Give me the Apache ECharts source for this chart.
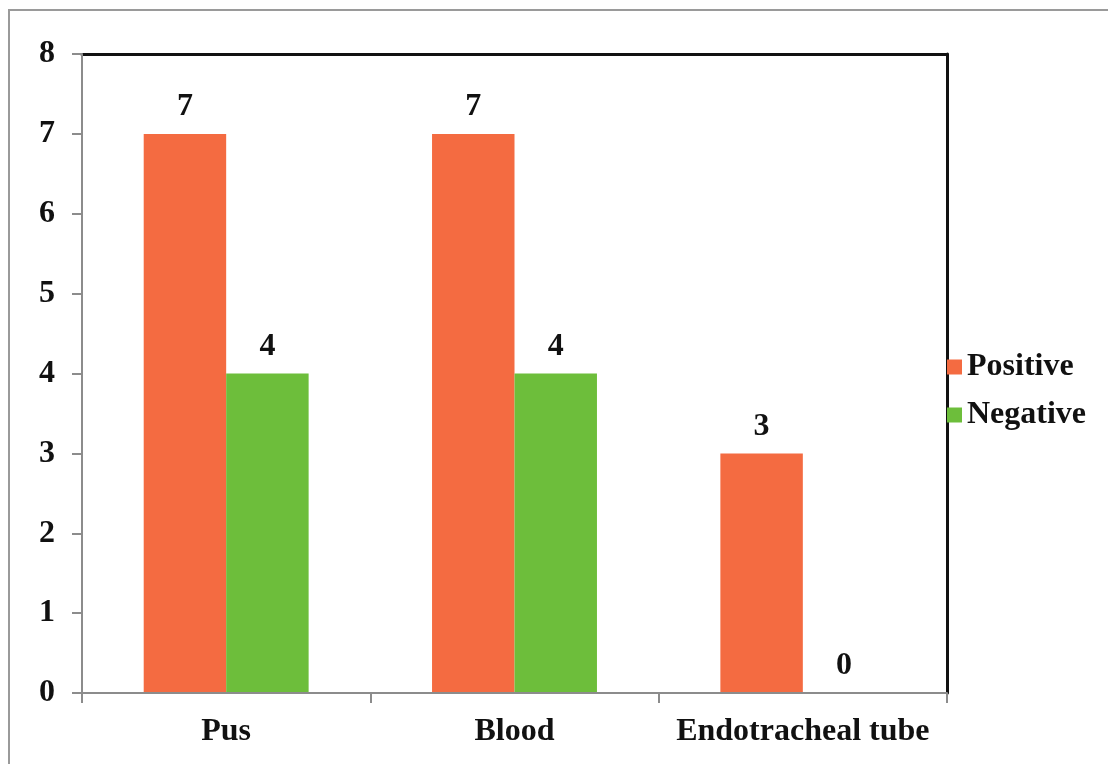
<!DOCTYPE html>
<html>
<head>
<meta charset="utf-8">
<style>
  html, body { margin: 0; padding: 0; background: #ffffff; }
  #chart { width: 1108px; height: 764px; }
</style>
<script src="https://cdn.jsdelivr.net/npm/echarts@6/dist/echarts.min.js"></script>
</head>
<body>
<div id="chart"></div>
<script>
// Specimen types and culture results
const categories = ['Pus', 'Blood', 'Endotracheal tube'];
const positiveCounts = [7, 7, 3];
const negativeCounts = [4, 4, 0];
const seriesNames = ['Positive', 'Negative'];
const yTicks = [0, 1, 2, 3, 4, 5, 6, 7, 8];

const FONT = '"Liberation Serif", "Times New Roman", serif';
const FONT_SIZE = 32;
const ORANGE = '#F46B41';
const GREEN = '#6DBE3B';

const chart = echarts.init(document.getElementById('chart'), null, { renderer: 'canvas' });

const labelStyle = {
  show: true,
  position: 'top',
  distance: 11,
  fontFamily: FONT,
  fontWeight: 'bold',
  fontSize: FONT_SIZE,
  color: '#111111'
};

chart.setOption({
  backgroundColor: '#ffffff',
  animation: false,
  graphic: [{
    type: 'rect',
    shape: { x: 9, y: 10, width: 1110, height: 770 },
    style: { fill: 'none', stroke: '#9a9a9a', lineWidth: 2 },
    silent: true
  }],
  legend: {
    orient: 'vertical',
    left: 942,
    top: 346,
    icon: 'rect',
    itemWidth: 15,
    itemHeight: 15,
    itemGap: 16,
    textStyle: { fontFamily: FONT, fontWeight: 'bold', fontSize: FONT_SIZE, color: '#111111' },
    data: seriesNames
  },
  grid: { left: 82, right: 161, top: 54, bottom: 71 },
  xAxis: [{
    type: 'category',
    data: categories,
    axisLine: { show: true, lineStyle: { color: '#8c8c8c', width: 2 } },
    axisTick: { show: true, interval: 0, length: 10, lineStyle: { color: '#8c8c8c', width: 2 } },
    axisLabel: { interval: 0, margin: 23, fontFamily: FONT, fontWeight: 'bold', fontSize: FONT_SIZE, color: '#111111' },
    z: 5
  }, {
    type: 'category',
    data: categories,
    position: 'top',
    axisLine: { show: true, onZero: false, lineStyle: { color: '#111111', width: 3 } },
    axisTick: { show: false },
    axisLabel: { show: false }
  }],
  yAxis: [{
    type: 'value',
    min: 0,
    max: 8,
    interval: 1,
    axisLine: { show: true, lineStyle: { color: '#8c8c8c', width: 2 } },
    axisTick: { show: true, length: 10, lineStyle: { color: '#8c8c8c', width: 2 } },
    axisLabel: {
      margin: 27,
      fontFamily: FONT, fontWeight: 'bold', fontSize: FONT_SIZE, color: '#111111',
      formatter: v => (yTicks.indexOf(v) >= 0 ? String(v) : '')
    },
    splitLine: { show: false },
    z: 5
  }, {
    type: 'value',
    min: 0,
    max: 8,
    interval: 1,
    position: 'right',
    axisLine: { show: true, onZero: false, lineStyle: { color: '#111111', width: 3 } },
    axisTick: { show: false },
    axisLabel: { show: false },
    splitLine: { show: false }
  }],
  series: [{
    name: seriesNames[0],
    type: 'bar',
    data: positiveCounts,
    barWidth: '28.6%',
    barGap: '0%',
    itemStyle: { color: ORANGE },
    label: labelStyle
  }, {
    name: seriesNames[1],
    type: 'bar',
    data: negativeCounts,
    barWidth: '28.6%',
    barGap: '0%',
    itemStyle: { color: GREEN },
    label: labelStyle
  }]
});
</script>
</body>
</html>
